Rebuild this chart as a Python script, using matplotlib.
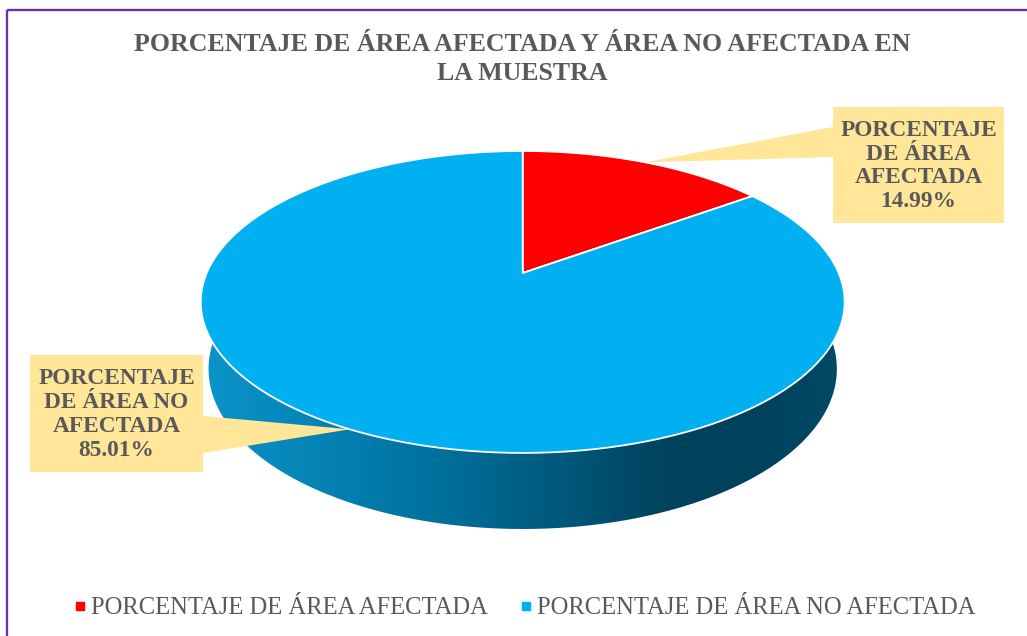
import numpy as np
import matplotlib
matplotlib.use('Agg')
from matplotlib import pyplot as plt
from matplotlib.patches import Polygon, Rectangle
from matplotlib.lines import Line2D
from matplotlib.colors import LinearSegmentedColormap

labels = ['PORCENTAJE DE ÁREA AFECTADA', 'PORCENTAJE DE ÁREA NO AFECTADA']
values = [14.99, 85.01]
colors = ['#FF0000', '#00B0F0']
callout_lines = [['PORCENTAJE', 'DE ÁREA', 'AFECTADA'],
                 ['PORCENTAJE', 'DE ÁREA NO', 'AFECTADA']]
title = 'PORCENTAJE DE ÁREA AFECTADA Y ÁREA NO AFECTADA EN\nLA MUESTRA'

plt.rcParams['font.family'] = ['Liberation Serif', 'DejaVu Serif']
txt_col = '#595959'

W, H = 1027, 636
fig = plt.figure(figsize=(W / 100, H / 100), dpi=100)
ax = fig.add_axes([0, 0, 1, 1])
ax.set_xlim(0, W)
ax.set_ylim(H, 0)
ax.axis('off')

# perspective view of the 3d pie
cx, cy = 522.7, 273
tilt = np.radians(27.4)
dist, focal, depth = 4.63, 1463, 0.241


def proj(theta, z=0.0):
    # theta in degrees, clockwise from 12 o'clock
    t = np.radians(theta)
    X, Y = np.sin(t), np.cos(t)
    yc = Y * np.sin(tilt) + z * np.cos(tilt)
    zc = dist + Y * np.cos(tilt) - z * np.sin(tilt)
    return cx + focal * X / zc, cy - focal * yc / zc


# side wall: one outline, filled with a left-to-right gradient
side_cmap = LinearSegmentedColormap.from_list('side', [
    (0.0, '#0b95cb'), (0.35, '#0073a0'), (0.72, '#00435d'),
    (0.85, '#00415b'), (1.0, '#004b69')])
th = np.linspace(60, 300, 500)
side_pts = [proj(t) for t in th] + [proj(t, -depth) for t in th[::-1]]
side = Polygon(side_pts, closed=True, fc='none', ec='none')
ax.add_patch(side)
grad = np.linspace(0, 1, 256)[None, :]
img = ax.imshow(grad, cmap=side_cmap, extent=(196, 850, 560, 140),
                aspect='auto', interpolation='bilinear')
img.set_clip_path(side)
ax.set_xlim(0, W)
ax.set_ylim(H, 0)

# top faces
start = 0.0
mids = []
for v, c in zip(values, colors):
    span = 360 * v / sum(values)
    arc = np.linspace(start, start + span, 300)
    pts = [(cx, cy)] + [proj(t) for t in arc]
    ax.add_patch(Polygon(pts, closed=True, fc=c, ec='white', lw=1.3, joinstyle='round'))
    mids.append(start + span / 2)
    start += span

# callouts
boxes = [(833, 107, 171, 116), (30, 355, 173, 117)]
wedge_base = [(833, 127, 157), (203, 416, 453)]
for v, lines, box, wb, m in zip(values, callout_lines, boxes, wedge_base, mids):
    tip = proj(m)
    ax.add_patch(Polygon([(wb[0], wb[1]), (wb[0], wb[2]), tip], closed=True,
                         fc='#FFE699', ec='none'))
    bx, by, bw, bh = box
    ax.add_patch(Rectangle((bx, by), bw, bh, fc='#FFE699', ec='none'))
    ax.text(bx + bw / 2, by + bh / 2 + 1, '\n'.join(lines) + '\n%.2f%%' % v,
            ha='center', va='center', fontsize=16.8, fontweight='bold',
            color=txt_col, linespacing=1.18)

ax.text(522, 59, title, ha='center', va='center', fontsize=18.6,
        fontweight='bold', color=txt_col, linespacing=1.3)

handles = [Line2D([], [], marker='s', ls='none', color=c, markersize=5.5) for c in colors]
fig.legend(handles, labels, loc='center', bbox_to_anchor=(525 / W, 1 - 608 / H),
           ncol=2, frameon=False, fontsize=17.7, handlelength=0.5,
           handletextpad=0.2, columnspacing=1.3, labelcolor=txt_col)

# chart frame
ax.add_patch(Rectangle((7, 9.5), 1200, 800, fill=False, ec='#7030A0', lw=1.7, clip_on=False))

fig.savefig('out.png', dpi=100)
